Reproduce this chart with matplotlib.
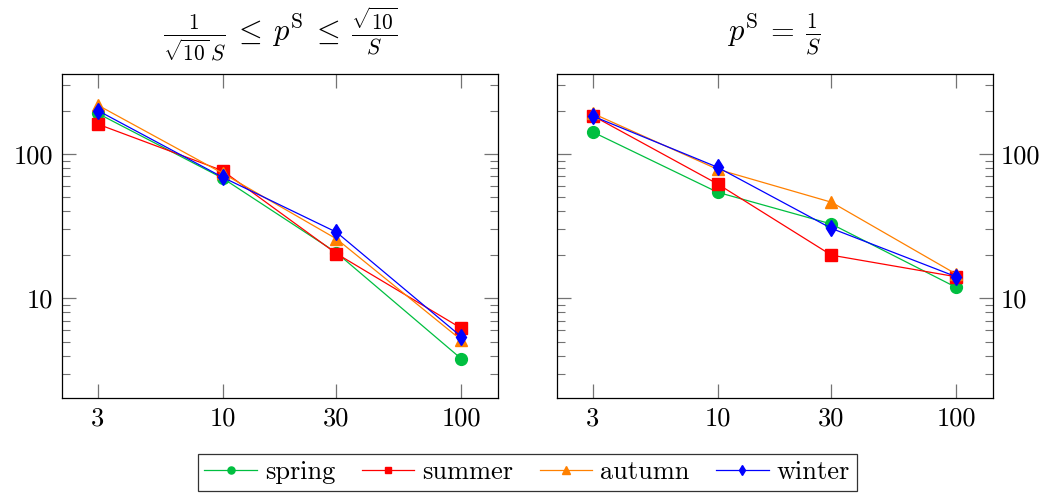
import numpy as np
import matplotlib
matplotlib.use("Agg")
import matplotlib.pyplot as plt
from matplotlib.ticker import FixedLocator, NullLocator, LogLocator, NullFormatter

plt.rcParams['font.family'] = 'serif'
plt.rcParams['font.serif'] = ['cmr10', 'DejaVu Serif']
plt.rcParams['mathtext.fontset'] = 'cm'
plt.rcParams['axes.formatter.use_mathtext'] = True

# data
sizes = [3, 10, 30, 100]
x_ticks = [3, 10, 30, 100]
x_ticklabels = ['3', '10', '30', '100']
y_ticks = [10, 100]
y_ticklabels = ['10', '100']

left_spring = [191, 68, 20.7, 3.81]
left_summer = [161, 76.6, 20.4, 6.2]
left_autumn = [218, 73.5, 25.8, 5.14]
left_winter = [200, 69, 28.7, 5.42]

right_spring = [142, 54.3, 32.7, 11.9]
right_summer = [184, 62, 19.9, 14.1]
right_autumn = [191, 78.3, 46.3, 14.7]
right_winter = [183, 80.9, 30.5, 14.1]

titles = [r'$\frac{1}{\sqrt{10}\,S}\:\leq\:p^{\mathrm{S}}\:\leq\:\frac{\sqrt{10}}{S}$',
          r'$p^{\mathrm{S}}\:=\:\frac{1}{S}$']
names = ['spring', 'summer', 'autumn', 'winter']
colors = ['#00bf40', '#ff0000', '#ff8000', '#0000ff']
markers = ['o', 's', '^', 'd']
msizes = [8.5, 8, 8.5, 8.5]

fig = plt.figure(figsize=(10.5, 4.97), dpi=100)
ax1 = fig.add_axes([0.0588, 0.1986, 0.4152, 0.6525])
ax2 = fig.add_axes([0.5302, 0.1986, 0.4152, 0.6525])

panels = [
    (ax1, [left_spring, left_summer, left_autumn, left_winter]),
    (ax2, [right_spring, right_summer, right_autumn, right_winter]),
]

for i, (ax, series) in enumerate(panels):
    for vals, name, c, m, ms in zip(series, names, colors, markers, msizes):
        ax.plot(sizes, vals, color=c, marker=m, markersize=ms, lw=0.9,
                label=name)
    ax.set_xscale('log')
    ax.set_yscale('log')
    ax.set_xlim(2.12, 142)
    ax.set_ylim(2.03, 358)
    ax.xaxis.set_major_locator(FixedLocator(x_ticks))
    ax.set_xticklabels(x_ticklabels)
    ax.xaxis.set_minor_locator(NullLocator())
    ax.yaxis.set_major_locator(FixedLocator(y_ticks))
    ax.set_yticklabels(y_ticklabels)
    ax.yaxis.set_minor_locator(LogLocator(base=10, subs=np.arange(2, 10)))
    ax.yaxis.set_minor_formatter(NullFormatter())
    ax.tick_params(which='both', direction='in', top=True, right=True,
                   color='0.45', labelsize=19)
    ax.tick_params(which='major', length=10, width=0.9, pad=6)
    ax.tick_params(which='minor', length=6, width=0.8)
    if i == 1:
        ax.tick_params(axis='y', labelleft=False, labelright=True)
    for sp in ax.spines.values():
        sp.set_linewidth(0.9)
    ax.set_title(titles[i], fontsize=22, pad=24)

handles, labels = ax1.get_legend_handles_labels()
leg = fig.legend(handles, labels, loc='lower center', ncol=4,
                 bbox_to_anchor=(0.502, -0.014), fontsize=19, frameon=True,
                 fancybox=False, edgecolor='black', markerscale=0.6,
                 handlelength=2.0, columnspacing=1.0, handletextpad=0.3,
                 borderpad=0.25)
leg.get_frame().set_linewidth(0.9)

fig.savefig('out.png', dpi=100)
